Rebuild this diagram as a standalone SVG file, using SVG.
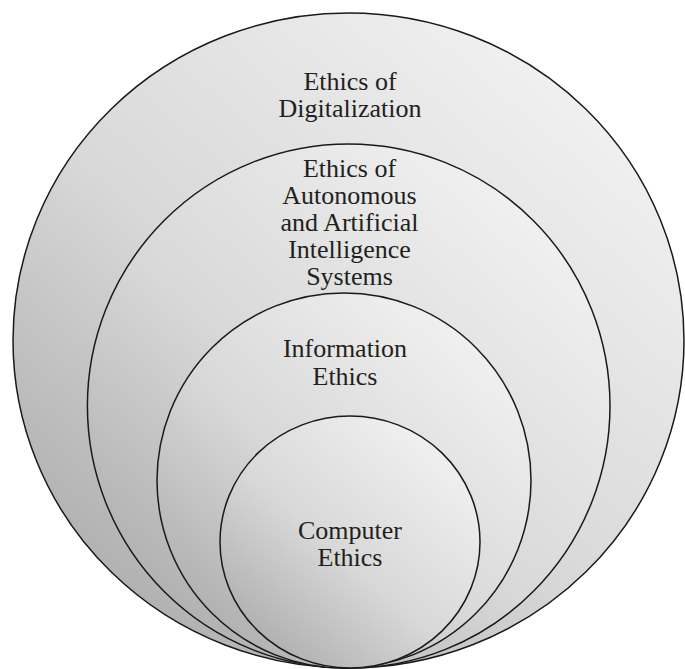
<svg xmlns="http://www.w3.org/2000/svg" width="685" height="669" viewBox="0 0 685 669">
<defs>
<linearGradient id="g" x1="0.1" y1="0.95" x2="0.9" y2="0.05">
<stop offset="0" stop-color="#a9a9a9"/>
<stop offset="0.45" stop-color="#d8d8d8"/>
<stop offset="1" stop-color="#f4f4f4"/>
</linearGradient>
<style>
.c{fill:url(#g);stroke:#1a1a1a;stroke-width:1.5}
text{font-family:"Times New Roman","Liberation Serif",Tinos,"DejaVu Serif",serif;font-size:26px;fill:#231f20;text-anchor:middle}
</style>
</defs>
<rect width="685" height="669" fill="#ffffff"/>
<g id="digitalization">
<ellipse class="c" cx="348.5" cy="340.5" rx="335.5" ry="327.5"/>
<text x="350" y="90">Ethics of</text>
<text x="350" y="116.5">Digitalization</text>
</g>
<g id="autonomous-ai">
<ellipse class="c" cx="348.7" cy="406" rx="261.3" ry="262"/>
<text x="349.5" y="177">Ethics of</text>
<text x="349.5" y="204">Autonomous</text>
<text x="349.5" y="231">and Artificial</text>
<text x="349.5" y="258">Intelligence</text>
<text x="349.5" y="285">Systems</text>
</g>
<g id="information">
<ellipse class="c" cx="344" cy="480.5" rx="187" ry="187.5"/>
<text x="345" y="357">Information</text>
<text x="345" y="384.5">Ethics</text>
</g>
<g id="computer">
<ellipse class="c" cx="350" cy="542" rx="130" ry="126"/>
<text x="350" y="538.5">Computer</text>
<text x="350" y="565.5">Ethics</text>
</g>
<g id="connectors"/>
</svg>
